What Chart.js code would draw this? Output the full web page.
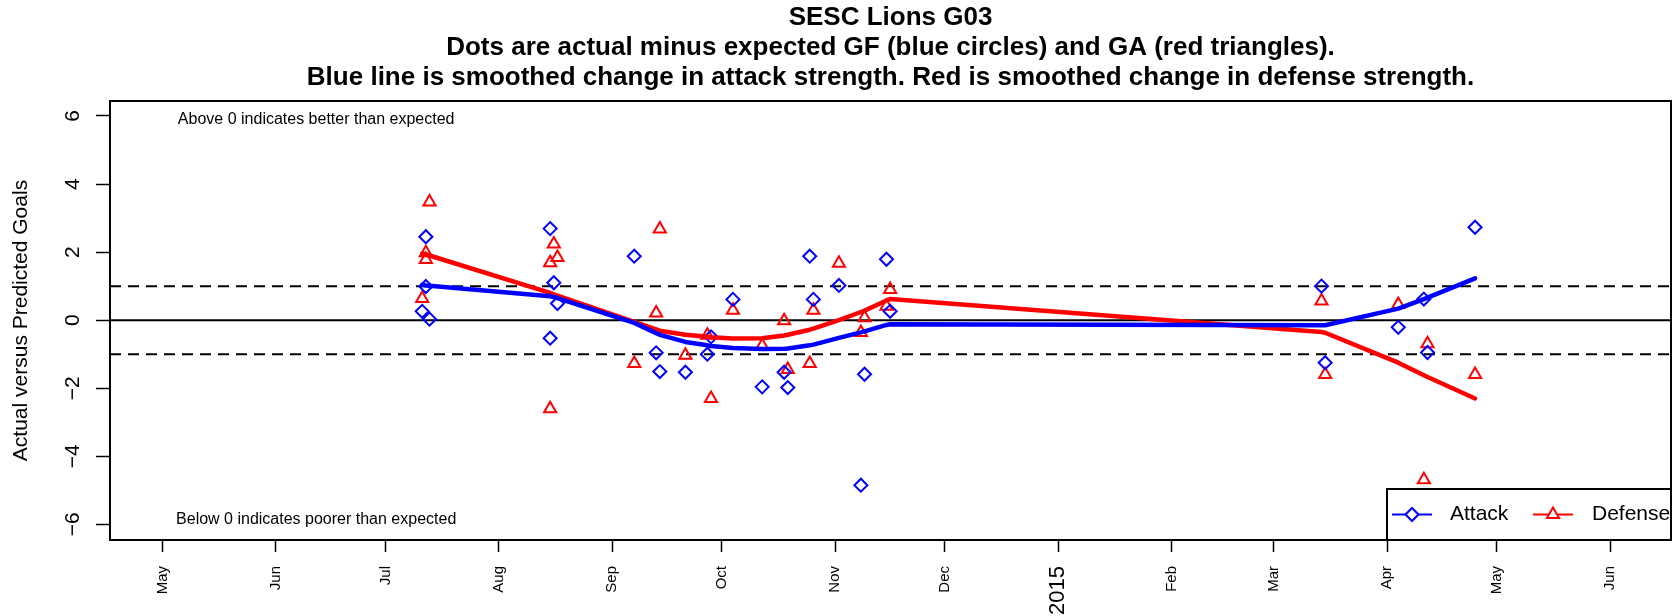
<!DOCTYPE html>
<html>
<head>
<meta charset="utf-8">
<script src="https://cdn.jsdelivr.net/npm/chart.js@4.4.1/dist/chart.umd.min.js"></script>
<style>
  html, body { margin: 0; padding: 0; background: #fff; }
  #wrap { width: 1680px; height: 616px; }
</style>
</head>
<body>
<div id="wrap"><canvas id="chart" width="1680" height="616"></canvas></div>
<script>
// SESC Lions G03 - actual minus expected goals per game, plus smoothed strength change

const titleLines = [
    'SESC Lions G03',
    'Dots are actual minus expected GF (blue circles) and GA (red triangles).',
    'Blue line is smoothed change in attack strength. Red is smoothed change in defense strength.'
];
const yTitle = 'Actual versus Predicted Goals';
const seriesNames = ['Attack', 'Defense'];
const noteTexts = ['Above 0 indicates better than expected', 'Below 0 indicates poorer than expected'];

// one entry per game
const gameDates = [
    '2014-07-11', '2014-07-12', '2014-07-12', '2014-07-13',
    '2014-08-15', '2014-08-15', '2014-08-16', '2014-08-17',
    '2014-09-07', '2014-09-13', '2014-09-14', '2014-09-21',
    '2014-09-27', '2014-09-28', '2014-10-04', '2014-10-12',
    '2014-10-18', '2014-10-19', '2014-10-25', '2014-10-26',
    '2014-11-02', '2014-11-08', '2014-11-09', '2014-11-15', '2014-11-16',
    '2015-03-14', '2015-03-15', '2015-04-04', '2015-04-11', '2015-04-12', '2015-04-25'
];
const attackDiff = [
    0.26, 2.45, 0.99, 0.03,
    2.69, -0.53, 1.10, 0.49,
    1.88, -0.96, -1.51, -1.53,
    -1.00, -0.49, 0.61, -1.96,
    -1.53, -1.98, 1.88, 0.61,
    1.02, -4.85, -1.59, 1.79, 0.26,
    1.00, -1.25, -0.21, 0.62, -0.95, 2.73
];
const defenseDiff = [
    0.64, 1.98, 1.78, 3.47,
    1.69, -2.60, 2.24, 1.84,
    -1.27, 0.21, 2.68, -1.03,
    -0.44, -2.30, 0.29, -0.75,
    -0.02, -1.45, -1.27, 0.29,
    1.67, -0.36, 0.07, 0.41, 0.90,
    0.56, -1.60, 0.46, -4.69, -0.69, -1.60
];

// smoothed lines, evaluated on each game day
const smoothDates = [
    '2014-07-11', '2014-07-12', '2014-07-13', '2014-08-15', '2014-08-16', '2014-08-17',
    '2014-09-07', '2014-09-13', '2014-09-14', '2014-09-21', '2014-09-27', '2014-09-28',
    '2014-10-04', '2014-10-12', '2014-10-18', '2014-10-19', '2014-10-25', '2014-10-26',
    '2014-11-02', '2014-11-08', '2014-11-09', '2014-11-15', '2014-11-16',
    '2015-03-14', '2015-03-15', '2015-04-04', '2015-04-11', '2015-04-12', '2015-04-25'
];
const attackSmooth = [
    1.04, 1.02, 1.01, 0.70, 0.68, 0.65,
    -0.08, -0.38, -0.43, -0.64, -0.74, -0.76,
    -0.82, -0.85, -0.84, -0.83, -0.74, -0.72,
    -0.52, -0.36, -0.33, -0.14, -0.12,
    -0.15, -0.15, 0.34, 0.62, 0.66, 1.23
];
const defenseSmooth = [
    1.96, 1.93, 1.90, 0.80, 0.76, 0.72,
    -0.05, -0.27, -0.31, -0.43, -0.49, -0.50,
    -0.54, -0.53, -0.45, -0.43, -0.28, -0.25,
    0.00, 0.24, 0.28, 0.58, 0.62,
    -0.35, -0.37, -1.25, -1.62, -1.67, -2.30
];

const tickDates = [
    '2014-05-01', '2014-06-01', '2014-07-01', '2014-08-01', '2014-09-01', '2014-10-01', '2014-11-01',
    '2014-12-01', '2015-01-01', '2015-02-01', '2015-03-01', '2015-04-01', '2015-05-01', '2015-06-01'
];
const tickLabels = ['May', 'Jun', 'Jul', 'Aug', 'Sep', 'Oct', 'Nov', 'Dec', '2015', 'Feb', 'Mar', 'Apr', 'May', 'Jun'];
const yTicks = [-6, -4, -2, 0, 2, 4, 6];
const refLines = [1, 0, -1];

const FONT = '"Liberation Sans", Arial, Helvetica, sans-serif';
const DAY0 = Date.UTC(2014, 4, 1);

function toDay(s) {
    const [y, m, d] = s.split('-').map(Number);
    return (Date.UTC(y, m - 1, d) - DAY0) / 86400000;
}

function fmtNum(v) {
    return v < 0 ? '\u2212' + Math.abs(v) : String(v);
}

const decor = {
    id: 'decor',
    beforeDatasetsDraw(chart) {
        const { ctx, chartArea: a, scales: { y } } = chart;
        ctx.save();
        ctx.strokeStyle = '#000';
        ctx.lineWidth = 2;
        refLines.forEach(v => {
            const py = y.getPixelForValue(v);
            ctx.setLineDash(v === 0 ? [] : [11, 7]);
            ctx.beginPath();
            ctx.moveTo(a.left, py);
            ctx.lineTo(a.right, py);
            ctx.stroke();
        });
        ctx.restore();
    },
    afterDraw(chart) {
        const { ctx, chartArea: a, scales: { x, y } } = chart;
        ctx.save();

        // plot frame
        ctx.strokeStyle = '#000';
        ctx.lineWidth = 2;
        ctx.strokeRect(a.left, a.top, a.right - a.left, a.bottom - a.top);

        // y tick labels, rotated like R's default
        ctx.fillStyle = '#000';
        ctx.font = '21px ' + FONT;
        ctx.textAlign = 'center';
        ctx.textBaseline = 'middle';
        y.ticks.forEach(t => {
            ctx.save();
            ctx.translate(73, y.getPixelForValue(t.value));
            ctx.rotate(-Math.PI / 2);
            ctx.fillText(fmtNum(t.value), 0, 0);
            ctx.restore();
        });

        // notes
        ctx.font = '16px ' + FONT;
        const nx = x.getPixelForValue(toDay('2014-06-12'));
        ctx.fillText(noteTexts[0], nx, y.getPixelForValue(5.88));
        ctx.fillText(noteTexts[1], nx, y.getPixelForValue(-5.85));

        // legend box
        const lx = 1387, ly = 489, lw = a.right - 1387, lh = a.bottom - 489;
        ctx.fillStyle = '#fff';
        ctx.fillRect(lx, ly, lw, lh);
        ctx.strokeRect(lx, ly, lw, lh);
        const cy = ly + lh / 2;
        const entries = [
            { name: seriesNames[0], color: '#0000FF', style: 'rectRot', r: 6.5, x0: 1392, tx: 1450 },
            { name: seriesNames[1], color: '#FF0000', style: 'triangle', r: 7, x0: 1533, tx: 1592 }
        ];
        entries.forEach(e => {
            ctx.strokeStyle = e.color;
            ctx.lineWidth = 2;
            ctx.beginPath();
            ctx.moveTo(e.x0, cy);
            ctx.lineTo(e.x0 + 40, cy);
            ctx.stroke();
            ctx.fillStyle = '#fff';
            Chart.helpers.drawPoint(ctx, { pointStyle: e.style, radius: e.r, borderWidth: 2, rotation: 0 }, e.x0 + 20, cy);
            ctx.fillStyle = '#000';
            ctx.font = '21px ' + FONT;
            ctx.textAlign = 'left';
            ctx.fillText(e.name, e.tx, cy);
        });
        ctx.restore();
    }
};

Chart.defaults.font.family = FONT;
Chart.defaults.color = '#000';

const pts = vals => gameDates.map((d, i) => ({ x: toDay(d), y: vals[i] }));
const smooth = vals => smoothDates.map((d, i) => ({ x: toDay(d), y: vals[i] }));

new Chart(document.getElementById('chart'), {
    type: 'scatter',
    data: {
        datasets: [
            {
                label: seriesNames[0] + ' smoothed',
                data: smooth(attackSmooth),
                showLine: true,
                borderColor: '#0000FF',
                borderWidth: 4.5,
                borderCapStyle: 'round',
                borderJoinStyle: 'round',
                pointRadius: 0,
                tension: 0,
                order: 0
            },
            {
                label: seriesNames[1] + ' smoothed',
                data: smooth(defenseSmooth),
                showLine: true,
                borderColor: '#FF0000',
                borderWidth: 4.5,
                borderCapStyle: 'round',
                borderJoinStyle: 'round',
                pointRadius: 0,
                tension: 0,
                order: 0
            },
            {
                label: seriesNames[0],
                data: pts(attackDiff),
                pointStyle: 'rectRot',
                pointRadius: 6.5,
                borderColor: '#0000FF',
                backgroundColor: 'rgba(0,0,0,0)',
                borderWidth: 2,
                order: 1
            },
            {
                label: seriesNames[1],
                data: pts(defenseDiff),
                pointStyle: 'triangle',
                pointRadius: 7,
                borderColor: '#FF0000',
                backgroundColor: 'rgba(0,0,0,0)',
                borderWidth: 2,
                order: 1
            }
        ]
    },
    options: {
        responsive: false,
        animation: false,
        events: [],
        layout: { padding: { left: 0, right: 1, top: 0, bottom: 0 } },
        plugins: {
            legend: { display: false },
            tooltip: { enabled: false },
            title: {
                display: true,
                fullSize: false,
                text: titleLines,
                color: '#000',
                font: { size: 26, weight: 'bold', lineHeight: 30 / 26 },
                padding: { top: 3, bottom: 8 }
            }
        },
        scales: {
            x: {
                type: 'linear',
                min: -14.4,
                max: 412.6,
                afterBuildTicks: s => { s.ticks = tickDates.map(d => ({ value: toDay(d) })); },
                afterFit: s => { s.height = 76; },
                border: { display: false },
                grid: { drawOnChartArea: false, tickLength: 12, tickColor: '#000', tickWidth: 1.5 },
                ticks: {
                    autoSkip: false,
                    minRotation: 90,
                    maxRotation: 90,
                    padding: 14,
                    color: '#000',
                    callback: (v, i) => tickLabels[i],
                    font: c => ({ size: tickLabels[c.index] === '2015' ? 22 : 15 })
                }
            },
            y: {
                min: -6.46,
                max: 6.44,
                afterBuildTicks: s => { s.ticks = yTicks.map(v => ({ value: v })); },
                afterFit: s => { s.width = 110; },
                border: { display: false },
                grid: { drawOnChartArea: false, tickLength: 14, tickColor: '#000', tickWidth: 1.5 },
                ticks: { display: false },
                title: {
                    display: true,
                    text: yTitle,
                    color: '#000',
                    font: { size: 21 },
                    padding: { top: 8.4, bottom: 0 }
                }
            }
        }
    },
    plugins: [decor]
});
</script>
</body>
</html>
